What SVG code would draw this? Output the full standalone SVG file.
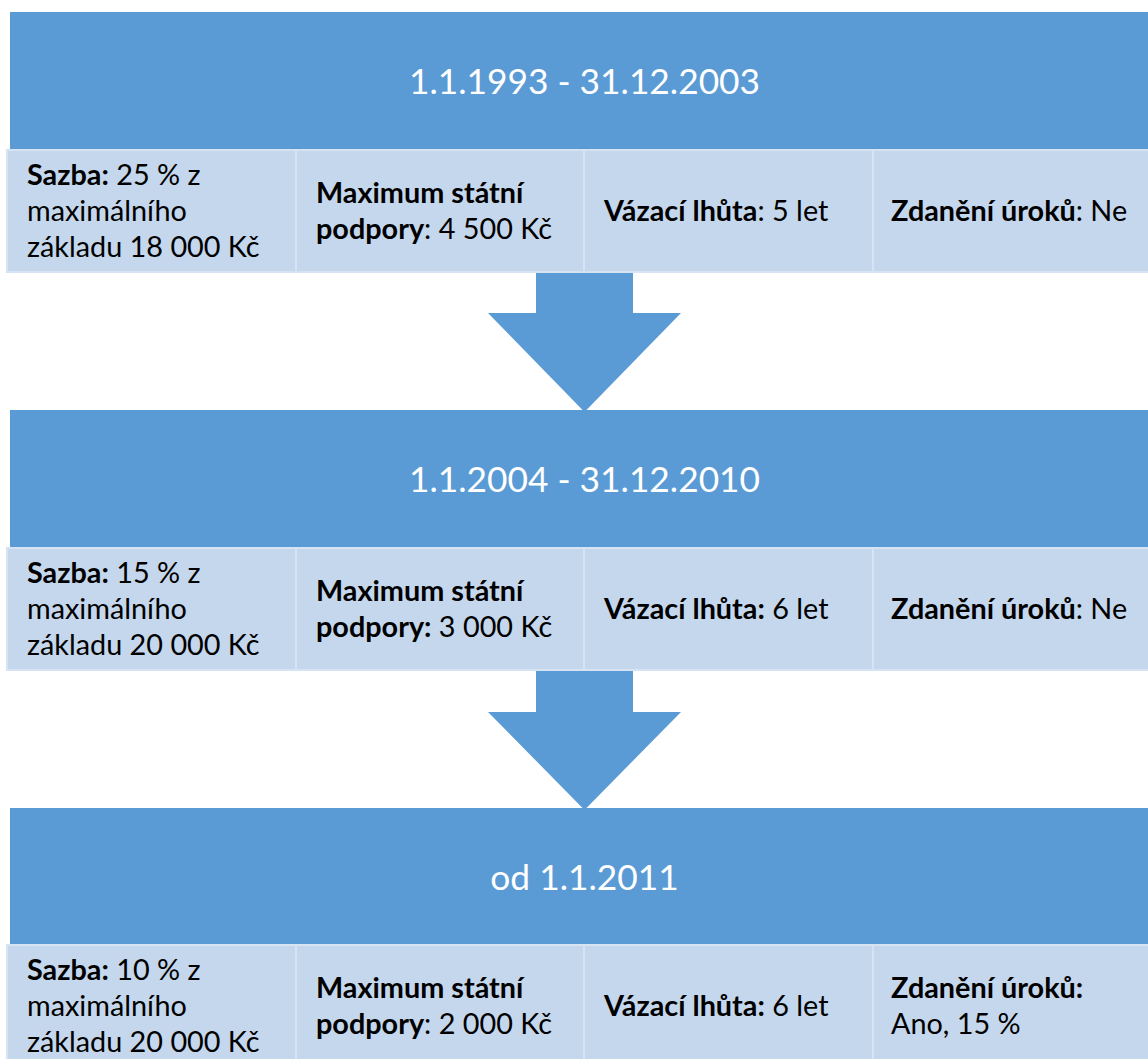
<svg xmlns="http://www.w3.org/2000/svg" width="1148" height="1059" viewBox="0 0 1148 1059">
<style>
.hdr{fill:#5B9BD5}
.cell{fill:#C5D7EC;stroke:#D6E3F3;stroke-width:2}
.arrow{fill:#5B9BD5}
text{font-family:Lato,"Open Sans","Liberation Sans",sans-serif}
.ht{fill:#FFFFFF;font-size:35.3px;text-anchor:middle}
.ct{fill:#000000;font-size:28.8px}
.b{font-weight:bold}
</style>
<rect width="1148" height="1059" fill="#FFFFFF"/>
<g id="connectors">
<path class="arrow" d="M536,272 H633 V313 H681 L584.5,412 L488,313 H536 Z"/>
<path class="arrow" d="M536,670 H633 V712 H681 L584.5,810 L488,712 H536 Z"/>
</g>
<g id="period1">
<rect class="hdr" x="10" y="12" width="1150" height="138"/>
<text class="ht" x="584.5" y="94">1.1.1993 - 31.12.2003</text>
</g>
<g id="p1-sazba">
<rect class="cell" x="7" y="150" width="289" height="122"/>
<text class="ct" x="27" y="185"><tspan class="b">Sazba:</tspan> 25 % z</text>
<text class="ct" x="27" y="221">maximálního</text>
<text class="ct" x="27" y="257">základu 18 000 Kč</text>
</g>
<g id="p1-max">
<rect class="cell" x="296" y="150" width="288" height="122"/>
<text class="ct" x="316" y="203"><tspan class="b">Maximum státní</tspan></text>
<text class="ct" x="316" y="239"><tspan class="b">podpory</tspan>: 4 500 Kč</text>
</g>
<g id="p1-lhuta">
<rect class="cell" x="584" y="150" width="289" height="122"/>
<text class="ct" x="604" y="221"><tspan class="b">Vázací lhůta</tspan>: 5 let</text>
</g>
<g id="p1-dan">
<rect class="cell" x="873" y="150" width="290" height="122"/>
<text class="ct" x="891" y="221"><tspan class="b">Zdanění úroků</tspan>: Ne</text>
</g>
<g id="period2">
<rect class="hdr" x="10" y="410" width="1150" height="138"/>
<text class="ht" x="584.5" y="492">1.1.2004 - 31.12.2010</text>
</g>
<g id="p2-sazba">
<rect class="cell" x="7" y="548" width="289" height="122"/>
<text class="ct" x="27" y="583"><tspan class="b">Sazba:</tspan> 15 % z</text>
<text class="ct" x="27" y="619">maximálního</text>
<text class="ct" x="27" y="655">základu 20 000 Kč</text>
</g>
<g id="p2-max">
<rect class="cell" x="296" y="548" width="288" height="122"/>
<text class="ct" x="316" y="601"><tspan class="b">Maximum státní</tspan></text>
<text class="ct" x="316" y="637"><tspan class="b">podpory:</tspan> 3 000 Kč</text>
</g>
<g id="p2-lhuta">
<rect class="cell" x="584" y="548" width="289" height="122"/>
<text class="ct" x="604" y="619"><tspan class="b">Vázací lhůta:</tspan> 6 let</text>
</g>
<g id="p2-dan">
<rect class="cell" x="873" y="548" width="290" height="122"/>
<text class="ct" x="891" y="619"><tspan class="b">Zdanění úroků</tspan>: Ne</text>
</g>
<g id="period3">
<rect class="hdr" x="10" y="808" width="1150" height="137"/>
<text class="ht" x="584.5" y="890">od 1.1.2011</text>
</g>
<g id="p3-sazba">
<rect class="cell" x="7" y="945" width="289" height="122"/>
<text class="ct" x="27" y="980"><tspan class="b">Sazba:</tspan> 10 % z</text>
<text class="ct" x="27" y="1016">maximálního</text>
<text class="ct" x="27" y="1052">základu 20 000 Kč</text>
</g>
<g id="p3-max">
<rect class="cell" x="296" y="945" width="288" height="122"/>
<text class="ct" x="316" y="998"><tspan class="b">Maximum státní</tspan></text>
<text class="ct" x="316" y="1034"><tspan class="b">podpory</tspan>: 2 000 Kč</text>
</g>
<g id="p3-lhuta">
<rect class="cell" x="584" y="945" width="289" height="122"/>
<text class="ct" x="604" y="1016"><tspan class="b">Vázací lhůta:</tspan> 6 let</text>
</g>
<g id="p3-dan">
<rect class="cell" x="873" y="945" width="290" height="122"/>
<text class="ct" x="891" y="998"><tspan class="b">Zdanění úroků:</tspan></text>
<text class="ct" x="891" y="1034">Ano, 15 %</text>
</g>
</svg>
